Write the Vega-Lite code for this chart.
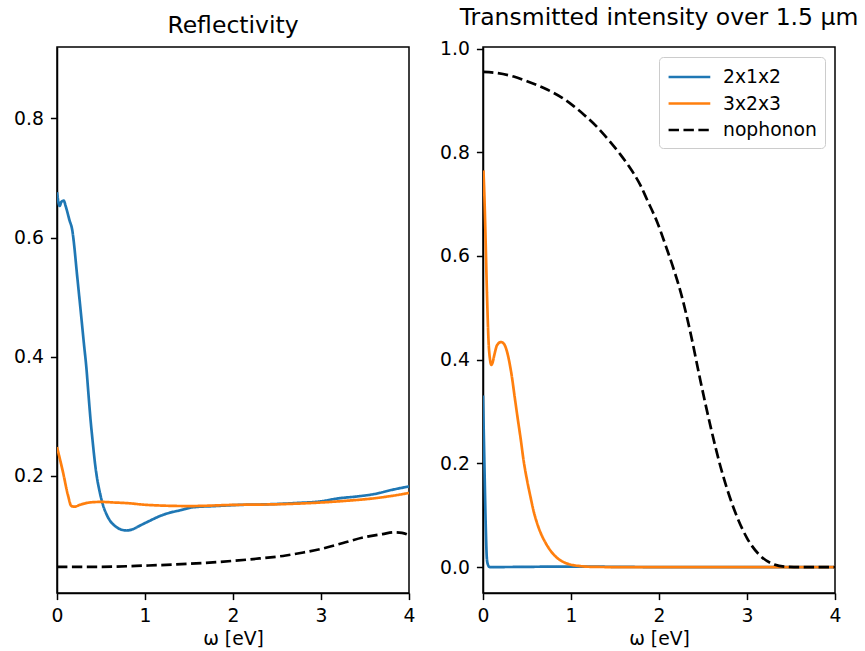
{
  "$schema": "https://vega.github.io/schema/vega-lite/v6.json",
  "autosize": {"type": "pad"},
  "padding": {"left": 12, "top": 5, "right": 0, "bottom": 0},
  "background": "white",
  "config": {
    "font": "DejaVu Sans",
    "view": {"stroke": "black", "strokeWidth": 1.5},
    "axis": {
      "domainColor": "black", "domainWidth": 1.5,
      "tickColor": "black", "tickWidth": 1.5, "tickSize": 6.6,
      "labelPadding": 7, "labelFontSize": 18.75, "labelColor": "black", "labelFont": "DejaVu Sans",
      "titleFont": "DejaVu Sans", "titleFontSize": 18.75, "titleFontWeight": "normal", "titleColor": "black",
      "grid": false, "labelFlush": false, "labelOverlap": false
    },
    "title": {"fontSize": 23.5, "fontWeight": "normal", "font": "DejaVu Sans", "color": "black", "offset": 10}
  },
  "datasets": {
    "refl": [
      {"series": "2x1x2", "omega": 0, "value": 0.676},
      {"series": "2x1x2", "omega": 0.03, "value": 0.653},
      {"series": "2x1x2", "omega": 0.05, "value": 0.66},
      {"series": "2x1x2", "omega": 0.076, "value": 0.662},
      {"series": "2x1x2", "omega": 0.1, "value": 0.652},
      {"series": "2x1x2", "omega": 0.14, "value": 0.63},
      {"series": "2x1x2", "omega": 0.175, "value": 0.611},
      {"series": "2x1x2", "omega": 0.2, "value": 0.58},
      {"series": "2x1x2", "omega": 0.22, "value": 0.549},
      {"series": "2x1x2", "omega": 0.25, "value": 0.505},
      {"series": "2x1x2", "omega": 0.277, "value": 0.465},
      {"series": "2x1x2", "omega": 0.305, "value": 0.423},
      {"series": "2x1x2", "omega": 0.334, "value": 0.381},
      {"series": "2x1x2", "omega": 0.357, "value": 0.338},
      {"series": "2x1x2", "omega": 0.38, "value": 0.296},
      {"series": "2x1x2", "omega": 0.405, "value": 0.258},
      {"series": "2x1x2", "omega": 0.43, "value": 0.223},
      {"series": "2x1x2", "omega": 0.455, "value": 0.196},
      {"series": "2x1x2", "omega": 0.485, "value": 0.173},
      {"series": "2x1x2", "omega": 0.52, "value": 0.152},
      {"series": "2x1x2", "omega": 0.56, "value": 0.136},
      {"series": "2x1x2", "omega": 0.6, "value": 0.125},
      {"series": "2x1x2", "omega": 0.656, "value": 0.116},
      {"series": "2x1x2", "omega": 0.72, "value": 0.11},
      {"series": "2x1x2", "omega": 0.789, "value": 0.108},
      {"series": "2x1x2", "omega": 0.86, "value": 0.11},
      {"series": "2x1x2", "omega": 0.94, "value": 0.116},
      {"series": "2x1x2", "omega": 1.05, "value": 0.124},
      {"series": "2x1x2", "omega": 1.15, "value": 0.131},
      {"series": "2x1x2", "omega": 1.24, "value": 0.136},
      {"series": "2x1x2", "omega": 1.4, "value": 0.142},
      {"series": "2x1x2", "omega": 1.545, "value": 0.147},
      {"series": "2x1x2", "omega": 1.8, "value": 0.149},
      {"series": "2x1x2", "omega": 2.08, "value": 0.151},
      {"series": "2x1x2", "omega": 2.4, "value": 0.152},
      {"series": "2x1x2", "omega": 2.7, "value": 0.154},
      {"series": "2x1x2", "omega": 3.0, "value": 0.157},
      {"series": "2x1x2", "omega": 3.2, "value": 0.162},
      {"series": "2x1x2", "omega": 3.4, "value": 0.165},
      {"series": "2x1x2", "omega": 3.6, "value": 0.169},
      {"series": "2x1x2", "omega": 3.8, "value": 0.176},
      {"series": "2x1x2", "omega": 4.0, "value": 0.182},
      {"series": "3x2x3", "omega": 0, "value": 0.248},
      {"series": "3x2x3", "omega": 0.068, "value": 0.206},
      {"series": "3x2x3", "omega": 0.125, "value": 0.167},
      {"series": "3x2x3", "omega": 0.163, "value": 0.149},
      {"series": "3x2x3", "omega": 0.2, "value": 0.148},
      {"series": "3x2x3", "omega": 0.258, "value": 0.151},
      {"series": "3x2x3", "omega": 0.37, "value": 0.155},
      {"series": "3x2x3", "omega": 0.5, "value": 0.156},
      {"series": "3x2x3", "omega": 0.65, "value": 0.155},
      {"series": "3x2x3", "omega": 0.79, "value": 0.154},
      {"series": "3x2x3", "omega": 1.02, "value": 0.151},
      {"series": "3x2x3", "omega": 1.5, "value": 0.149},
      {"series": "3x2x3", "omega": 2.0, "value": 0.151},
      {"series": "3x2x3", "omega": 2.5, "value": 0.152},
      {"series": "3x2x3", "omega": 3.0, "value": 0.155},
      {"series": "3x2x3", "omega": 3.3, "value": 0.158},
      {"series": "3x2x3", "omega": 3.6, "value": 0.162},
      {"series": "3x2x3", "omega": 3.8, "value": 0.166},
      {"series": "3x2x3", "omega": 4.0, "value": 0.171},
      {"series": "nophonon", "omega": 0, "value": 0.047},
      {"series": "nophonon", "omega": 0.5, "value": 0.047},
      {"series": "nophonon", "omega": 1.0, "value": 0.049},
      {"series": "nophonon", "omega": 1.5, "value": 0.052},
      {"series": "nophonon", "omega": 2.0, "value": 0.057},
      {"series": "nophonon", "omega": 2.3, "value": 0.061},
      {"series": "nophonon", "omega": 2.6, "value": 0.066},
      {"series": "nophonon", "omega": 2.8, "value": 0.071},
      {"series": "nophonon", "omega": 3.0, "value": 0.077},
      {"series": "nophonon", "omega": 3.25, "value": 0.087},
      {"series": "nophonon", "omega": 3.5, "value": 0.097},
      {"series": "nophonon", "omega": 3.7, "value": 0.102},
      {"series": "nophonon", "omega": 3.83, "value": 0.105},
      {"series": "nophonon", "omega": 3.92, "value": 0.104},
      {"series": "nophonon", "omega": 4.0, "value": 0.1}
    ],
    "trans": [
      {"series": "2x1x2", "omega": 0, "value": 0.331},
      {"series": "2x1x2", "omega": 0.015, "value": 0.207},
      {"series": "2x1x2", "omega": 0.03, "value": 0.087},
      {"series": "2x1x2", "omega": 0.045, "value": 0.014},
      {"series": "2x1x2", "omega": 0.06, "value": 0.003},
      {"series": "2x1x2", "omega": 0.076, "value": 0.0},
      {"series": "2x1x2", "omega": 1.0, "value": 0.001},
      {"series": "2x1x2", "omega": 2.0, "value": 0.0},
      {"series": "2x1x2", "omega": 4.0, "value": 0.0},
      {"series": "3x2x3", "omega": 0.005, "value": 0.765},
      {"series": "3x2x3", "omega": 0.015, "value": 0.72},
      {"series": "3x2x3", "omega": 0.027, "value": 0.648},
      {"series": "3x2x3", "omega": 0.045, "value": 0.528},
      {"series": "3x2x3", "omega": 0.064, "value": 0.432},
      {"series": "3x2x3", "omega": 0.08, "value": 0.4},
      {"series": "3x2x3", "omega": 0.095, "value": 0.39},
      {"series": "3x2x3", "omega": 0.11, "value": 0.395},
      {"series": "3x2x3", "omega": 0.13, "value": 0.41},
      {"series": "3x2x3", "omega": 0.16, "value": 0.428},
      {"series": "3x2x3", "omega": 0.205, "value": 0.434},
      {"series": "3x2x3", "omega": 0.24, "value": 0.43},
      {"series": "3x2x3", "omega": 0.265, "value": 0.42},
      {"series": "3x2x3", "omega": 0.3, "value": 0.395},
      {"series": "3x2x3", "omega": 0.33, "value": 0.365},
      {"series": "3x2x3", "omega": 0.36, "value": 0.328},
      {"series": "3x2x3", "omega": 0.394, "value": 0.287},
      {"series": "3x2x3", "omega": 0.43, "value": 0.245},
      {"series": "3x2x3", "omega": 0.46, "value": 0.207},
      {"series": "3x2x3", "omega": 0.5, "value": 0.168},
      {"series": "3x2x3", "omega": 0.54, "value": 0.135},
      {"series": "3x2x3", "omega": 0.575, "value": 0.108},
      {"series": "3x2x3", "omega": 0.61, "value": 0.087},
      {"series": "3x2x3", "omega": 0.66, "value": 0.064},
      {"series": "3x2x3", "omega": 0.71, "value": 0.047},
      {"series": "3x2x3", "omega": 0.77, "value": 0.031},
      {"series": "3x2x3", "omega": 0.84, "value": 0.018},
      {"series": "3x2x3", "omega": 0.9, "value": 0.011},
      {"series": "3x2x3", "omega": 0.99, "value": 0.005},
      {"series": "3x2x3", "omega": 1.1, "value": 0.002},
      {"series": "3x2x3", "omega": 1.22, "value": 0.0005},
      {"series": "3x2x3", "omega": 1.5, "value": 0.0},
      {"series": "3x2x3", "omega": 2.0, "value": 0.0},
      {"series": "3x2x3", "omega": 3.0, "value": 0.0},
      {"series": "3x2x3", "omega": 4.0, "value": 0.0},
      {"series": "nophonon", "omega": 0, "value": 0.955},
      {"series": "nophonon", "omega": 0.15, "value": 0.953},
      {"series": "nophonon", "omega": 0.348, "value": 0.946},
      {"series": "nophonon", "omega": 0.5, "value": 0.937},
      {"series": "nophonon", "omega": 0.728, "value": 0.921},
      {"series": "nophonon", "omega": 0.9, "value": 0.905},
      {"series": "nophonon", "omega": 1.03, "value": 0.889},
      {"series": "nophonon", "omega": 1.15, "value": 0.872},
      {"series": "nophonon", "omega": 1.3, "value": 0.848},
      {"series": "nophonon", "omega": 1.45, "value": 0.819},
      {"series": "nophonon", "omega": 1.56, "value": 0.796},
      {"series": "nophonon", "omega": 1.65, "value": 0.775},
      {"series": "nophonon", "omega": 1.79, "value": 0.736},
      {"series": "nophonon", "omega": 1.866, "value": 0.708},
      {"series": "nophonon", "omega": 1.98, "value": 0.665},
      {"series": "nophonon", "omega": 2.09, "value": 0.613},
      {"series": "nophonon", "omega": 2.17, "value": 0.573},
      {"series": "nophonon", "omega": 2.25, "value": 0.528},
      {"series": "nophonon", "omega": 2.36, "value": 0.45},
      {"series": "nophonon", "omega": 2.47, "value": 0.36},
      {"series": "nophonon", "omega": 2.59, "value": 0.268},
      {"series": "nophonon", "omega": 2.7, "value": 0.193},
      {"series": "nophonon", "omega": 2.85, "value": 0.113},
      {"series": "nophonon", "omega": 3.0, "value": 0.056},
      {"series": "nophonon", "omega": 3.15, "value": 0.022},
      {"series": "nophonon", "omega": 3.31, "value": 0.005},
      {"series": "nophonon", "omega": 3.45, "value": 0.0005},
      {"series": "nophonon", "omega": 3.6, "value": 0.0},
      {"series": "nophonon", "omega": 4.0, "value": 0.0}
    ]
  },
  "spacing": 22,
  "resolve": {"scale": {"y": "independent"}, "legend": {"color": "independent", "strokeDash": "independent"}},
  "hconcat": [
    {
      "width": 352, "height": 546,
      "title": {"text": "Reflectivity"},
      "data": {"name": "refl"},
      "mark": {"type": "line", "strokeWidth": 2.7, "interpolate": "monotone", "clip": true},
      "encoding": {
        "x": {"field": "omega", "type": "quantitative", "scale": {"domain": [0, 4], "nice": false, "zero": false},
              "axis": {"title": "ω [eV]", "values": [0, 1, 2, 3, 4], "titlePadding": 4}},
        "y": {"field": "value", "type": "quantitative", "scale": {"domain": [0.003, 0.92], "nice": false, "zero": false},
              "axis": {"title": null, "values": [0.2, 0.4, 0.6, 0.8], "format": ".1f"}},
        "color": {"field": "series", "type": "nominal",
                  "scale": {"domain": ["2x1x2", "3x2x3", "nophonon"], "range": ["#1f77b4", "#ff7f0e", "#000000"]},
                  "legend": null},
        "strokeDash": {"field": "series", "type": "nominal",
                  "scale": {"domain": ["2x1x2", "3x2x3", "nophonon"], "range": [[1, 0], [1, 0], [10.4, 4.5]]},
                  "legend": null}
      }
    },
    {
      "width": 352, "height": 546,
      "title": {"text": "Transmitted intensity over 1.5 μm"},
      "data": {"name": "trans"},
      "mark": {"type": "line", "strokeWidth": 2.7, "interpolate": "monotone", "clip": true},
      "encoding": {
        "x": {"field": "omega", "type": "quantitative", "scale": {"domain": [0, 4], "nice": false, "zero": false},
              "axis": {"title": "ω [eV]", "values": [0, 1, 2, 3, 4], "titlePadding": 4}},
        "y": {"field": "value", "type": "quantitative", "scale": {"domain": [-0.05, 1.003], "nice": false, "zero": false},
              "axis": {"title": null, "values": [0, 0.2, 0.4, 0.6, 0.8, 1.0], "format": ".1f"}},
        "color": {"field": "series", "type": "nominal",
                  "scale": {"domain": ["2x1x2", "3x2x3", "nophonon"], "range": ["#1f77b4", "#ff7f0e", "#000000"]},
                  "legend": {"title": null, "orient": "top-right", "offset": 10, "symbolType": "M-1,0H3", "symbolSize": 435,
                             "symbolStrokeWidth": 2.7, "labelFontSize": 18.75, "labelColor": "black", "labelOffset": 32,
                             "fillColor": "white", "strokeColor": "#cccccc", "cornerRadius": 4, "padding": 8, "rowPadding": 4.5}},
        "strokeDash": {"field": "series", "type": "nominal",
                  "scale": {"domain": ["2x1x2", "3x2x3", "nophonon"], "range": [[1, 0], [1, 0], [10.4, 4.5]]},
                  "legend": {"title": null, "orient": "top-right", "offset": 10, "symbolType": "M-1,0H3", "symbolSize": 435,
                             "symbolStrokeWidth": 2.7, "labelFontSize": 18.75, "labelColor": "black", "labelOffset": 32,
                             "fillColor": "white", "strokeColor": "#cccccc", "cornerRadius": 4, "padding": 8, "rowPadding": 4.5}}
      }
    }
  ]
}
